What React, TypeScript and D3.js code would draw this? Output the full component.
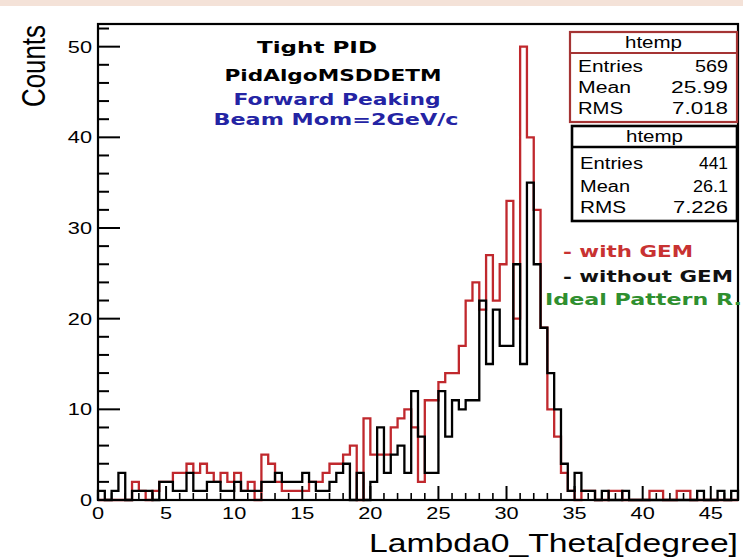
import React from "react";
import * as d3 from "d3";

// Histogram binning: 94 bins of 0.5 degree from 0 to 47
const X_MIN = 0;
const X_MAX = 47;
const BIN_WIDTH = 0.5;

// Counts per bin, "with GEM" (red)
const withGEM = [
  0, 0, 0, 0, 0, 2, 1, 0, 1, 2,
  2, 3, 3, 4, 3, 4, 3, 2, 3, 2,
  3, 1, 2, 0, 5, 4, 2, 1, 1, 1,
  1, 2, 2, 3, 4, 4, 5, 6, 0, 9,
  5, 5, 5, 8, 9, 10, 8, 2, 11, 11,
  13, 14, 14, 17, 22, 24, 21, 27, 22, 26,
  33, 20, 50, 40, 32, 19, 10, 7, 3, 1,
  0, 1, 1, 0, 0, 1, 1, 0, 0, 0,
  0, 1, 1, 0, 0, 1, 1, 0, 0, 0,
  0, 0, 0, 0,
];

// Counts per bin, "without GEM" (black)
const withoutGEM = [
  1, 0, 1, 3, 0, 1, 1, 1, 0, 2,
  2, 1, 1, 3, 1, 1, 2, 2, 1, 1,
  2, 1, 1, 1, 2, 2, 3, 2, 2, 2,
  3, 2, 1, 1, 2, 3, 4, 0, 3, 0,
  2, 8, 3, 5, 6, 3, 12, 7, 3, 3,
  12, 7, 11, 10, 11, 11, 22, 15, 21, 17,
  17, 26, 15, 35, 26, 19, 14, 10, 4, 1,
  3, 1, 1, 0, 1, 0, 0, 1, 0, 0,
  0, 0, 0, 0, 0, 0, 0, 0, 1, 0,
  0, 1, 0, 1,
];

const xTicks = [0, 5, 10, 15, 20, 25, 30, 35, 40, 45];
const yTicks = [0, 10, 20, 30, 40, 50];
const Y_MAX = 52.5;

// Statistics boxes
const statLabels = ["Entries", "Mean", "RMS"];
const statsWithGEM = ["569", "25.99", "7.018"];
const statsWithoutGEM = ["441", "26.1", "7.226"];

const headerLines = ["Tight PID", "PidAlgoMSDDETM"];
const beamLines = ["Forward Peaking", "Beam Mom=2GeV/c"];
const legendLines = ["- with GEM", "- without GEM", "Ideal Pattern R."];

const W = 743;
const H = 560;
const SX = 1.36; // horizontal glyph stretch
const SANS = "'Liberation Sans', Arial, Helvetica, sans-serif";
const BOLD = "'DejaVu Sans', 'Liberation Sans', sans-serif";

const RED = "#c0282d";
const BOX_RED = "#a53434";

const x = d3.scaleLinear().domain([X_MIN, X_MAX]).range([98, 738]);
const y = d3.scaleLinear().domain([0, Y_MAX]).range([500, 24]);

function histPath(values: number[]): string {
  const pts: [number, number][] = [[X_MIN, 0]];
  values.forEach((v, i) => pts.push([X_MIN + i * BIN_WIDTH, v]));
  pts.push([X_MIN + values.length * BIN_WIDTH, values[values.length - 1]]);
  pts.push([X_MIN + values.length * BIN_WIDTH, 0]);
  const line = d3
    .line<[number, number]>()
    .x((d) => x(d[0]))
    .y((d) => y(d[1]))
    .curve(d3.curveStepAfter);
  return line(pts) || "";
}

function SText(props: {
  x: number;
  y: number;
  text: string;
  size: number;
  anchor?: string;
  fill?: string;
  family?: string;
  weight?: string | number;
  sx?: number;
  len?: number;
}) {
  const { text, size, anchor = "start", fill = "#000", family = SANS, weight = "normal", sx = SX, len } = props;
  return (
    <text
      transform={`translate(${props.x},${props.y}) scale(${len ? 1 : sx},1)`}
      fontSize={size}
      fontFamily={family}
      fontWeight={weight}
      textAnchor={anchor}
      fill={fill}
      textLength={len}
      lengthAdjust={len ? "spacingAndGlyphs" : undefined}
    >
      {text}
    </text>
  );
}

function StatsBox(props: {
  x0: number;
  y0: number;
  x1: number;
  y1: number;
  divider: number;
  rows: number[];
  values: string[];
  stroke: string;
  sw: number;
  labelWidths: number[];
  valueWidths: number[];
}) {
  const { x0, y0, x1, y1, divider, rows, values, stroke, sw, labelWidths, valueWidths } = props;
  return (
    <g>
      <rect x={x0} y={y0} width={x1 - x0} height={y1 - y0} fill="#fff" stroke={stroke} strokeWidth={sw} />
      <line x1={x0} x2={x1} y1={divider} y2={divider} stroke={stroke} strokeWidth={sw} />
      <SText x={(x0 + x1) / 2} y={divider - 5} text="htemp" size={16} anchor="middle" len={57} />
      {statLabels.map((lab, i) => (
        <g key={lab}>
          <SText x={x0 + 8} y={rows[i]} text={lab} size={16} len={labelWidths[i]} />
          <SText x={x1 - 9} y={rows[i]} text={values[i]} size={16} anchor="end" len={valueWidths[i]} />
        </g>
      ))}
    </g>
  );
}

export default function App() {
  const yMinor: number[] = d3.range(0, Y_MAX, 2).filter((v) => v % 10 !== 0);
  const xMinor: number[] = d3.range(0, X_MAX, 1).filter((v) => v % 5 !== 0);

  return (
    <svg
      width={W}
      height={H}
      viewBox={`0 0 ${W} ${H}`}
      style={{ position: "absolute", left: 0, top: 0, background: "#fff" }}
    >
      <rect x={0} y={0} width={W} height={H} fill="#fff" />
      <rect x={0} y={0} width={W} height={6} fill="#f4e2d8" />

      {/* histograms */}
      <path d={histPath(withGEM)} fill="none" stroke={RED} strokeWidth={2.3} />
      <path d={histPath(withoutGEM)} fill="none" stroke="#000" strokeWidth={2.3} />

      {/* frame */}
      <rect
        x={x(X_MIN)}
        y={y(Y_MAX)}
        width={x(X_MAX) - x(X_MIN)}
        height={y(0) - y(Y_MAX)}
        fill="none"
        stroke="#000"
        strokeWidth={2.2}
      />

      {/* y axis */}
      {yTicks.map((t) => (
        <g key={`y${t}`}>
          <line x1={x(X_MIN)} x2={x(X_MIN) + 22} y1={y(t)} y2={y(t)} stroke="#000" strokeWidth={2} />
          <SText x={92} y={y(t) + 6} text={String(t)} size={16} anchor="end" />
        </g>
      ))}
      {yMinor.map((t) => (
        <line key={`ym${t}`} x1={x(X_MIN)} x2={x(X_MIN) + 11} y1={y(t)} y2={y(t)} stroke="#000" strokeWidth={2} />
      ))}

      {/* x axis */}
      {xTicks.map((t) => (
        <g key={`x${t}`}>
          <line x1={x(t)} x2={x(t)} y1={y(0)} y2={y(0) - 14} stroke="#000" strokeWidth={2} />
          <SText x={x(t)} y={519} text={String(t)} size={16} anchor="middle" />
        </g>
      ))}
      {xMinor.map((t) => (
        <line key={`xm${t}`} x1={x(t)} x2={x(t)} y1={y(0)} y2={y(0) - 7} stroke="#000" strokeWidth={1.6} />
      ))}

      {/* axis titles */}
      <SText x={738} y={552} text="Lambda0_Theta[degree]" size={25} anchor="end" len={369} />
      <g transform={`translate(45,25) scale(${SX},1) rotate(-90)`}>
        <text fontSize={24} fontFamily={SANS} textAnchor="end" textLength={82} lengthAdjust="spacingAndGlyphs">
          Counts
        </text>
      </g>

      {/* annotations */}
      <SText x={317} y={53} text={headerLines[0]} size={16} anchor="middle" family={BOLD} weight="bold" len={120} />
      <SText x={333} y={81} text={headerLines[1]} size={16} anchor="middle" family={BOLD} weight="bold" len={217} />
      <SText x={337} y={105} text={beamLines[0]} size={16} anchor="middle" family={BOLD} weight="bold" fill="#2424a4" len={207} />
      <SText x={336} y={125} text={beamLines[1]} size={16} anchor="middle" family={BOLD} weight="bold" fill="#2424a4" len={245} />

      <SText x={563} y={257} text={legendLines[0]} size={15} family={BOLD} weight="bold" fill="#c83232" len={130} />
      <SText x={563} y={282} text={legendLines[1]} size={15} family={BOLD} weight="bold" fill="#111" len={170} />
      <SText x={545} y={305} text={legendLines[2]} size={15} family={BOLD} weight="bold" fill="#2f8f2f" len={197} />

      {/* statistics boxes */}
      <StatsBox
        x0={570}
        y0={32}
        x1={737}
        y1={122}
        divider={53}
        rows={[72, 93, 114]}
        values={statsWithGEM}
        stroke={BOX_RED}
        sw={2.2}
        labelWidths={[65, 53, 45]}
        valueWidths={[33, 57, 56]}
      />
      <StatsBox
        x0={572}
        y0={126}
        x1={737}
        y1={221}
        divider={147}
        rows={[169, 192, 213]}
        values={statsWithoutGEM}
        stroke="#000"
        sw={2.6}
        labelWidths={[63, 50, 46]}
        valueWidths={[29, 35, 55]}
      />
    </svg>
  );
}
